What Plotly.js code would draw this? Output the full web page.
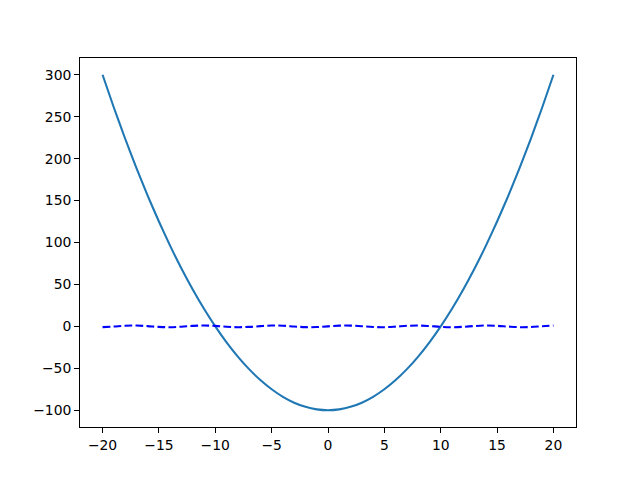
<!DOCTYPE html>
<html>
<head>
<meta charset="utf-8">
<script src="https://cdn.plot.ly/plotly-3.0.1.min.js"></script>
<style>html,body{margin:0;padding:0;background:#fff;}#chart{width:640px;height:480px;}</style>
</head>
<body>
<div id="chart"></div>
<script>
const xValues = [-20,-19,-18,-17,-16,-15,-14,-13,-12,-11,-10,-9,-8,-7,-6,-5,-4,-3,-2,-1,0,1,2,3,4,5,6,7,8,9,10,11,12,13,14,15,16,17,18,19,20];
const parabolaValues = [300,261,224,189,156,125,96,69,44,21,0,-19,-36,-51,-64,-75,-84,-91,-96,-99,-100,-99,-96,-91,-84,-75,-64,-51,-36,-19,0,21,44,69,96,125,156,189,224,261,300];
const waveValues = [-0.913,-0.150,0.751,0.961,0.288,-0.650,-0.991,-0.420,0.537,1.000,0.544,-0.412,-0.989,-0.657,0.279,0.959,0.757,-0.141,-0.909,-0.841,0,0.841,0.909,0.141,-0.757,-0.959,-0.279,0.657,0.989,0.412,-0.544,-1.000,-0.537,0.420,0.991,0.650,-0.288,-0.961,-0.751,0.150,0.913];
const xTicks = [-20,-15,-10,-5,0,5,10,15,20];
const yTicks = [-100,-50,0,50,100,150,200,250,300];

const traces = [
  {x: xValues, y: parabolaValues, type: 'scatter', mode: 'lines', line: {color: '#1f77b4', width: 2.08, shape: 'spline', smoothing: 0.6}},
  {x: xValues, y: waveValues, type: 'scatter', mode: 'lines', line: {color: '#0000ff', width: 2.08, dash: '7.7px,3.3px', shape: 'spline'}}
];
const axisCommon = {
  showline: true, linecolor: '#000', linewidth: 1, mirror: true,
  ticks: 'outside', ticklen: 4.9, tickwidth: 1, tickcolor: '#000',
  showgrid: false, zeroline: false,
  tickfont: {family: 'DejaVu Sans', size: 13.9, color: '#000'},
  tickmode: 'array'
};
const layout = {
  width: 640, height: 480,
  margin: {l: 80, r: 64, t: 58, b: 53},
  paper_bgcolor: '#fff', plot_bgcolor: '#fff',
  showlegend: false,
  xaxis: Object.assign({}, axisCommon, {range: [-22, 22], tickvals: xTicks, ticktext: xTicks.map(v => v < 0 ? '\u2212' + (-v) : String(v))}),
  yaxis: Object.assign({}, axisCommon, {range: [-120, 320], tickvals: yTicks, ticktext: yTicks.map(v => v < 0 ? '\u2212' + (-v) : String(v))})
};
Plotly.newPlot('chart', traces, layout, {staticPlot: true, displayModeBar: false});
</script>
</body>
</html>
